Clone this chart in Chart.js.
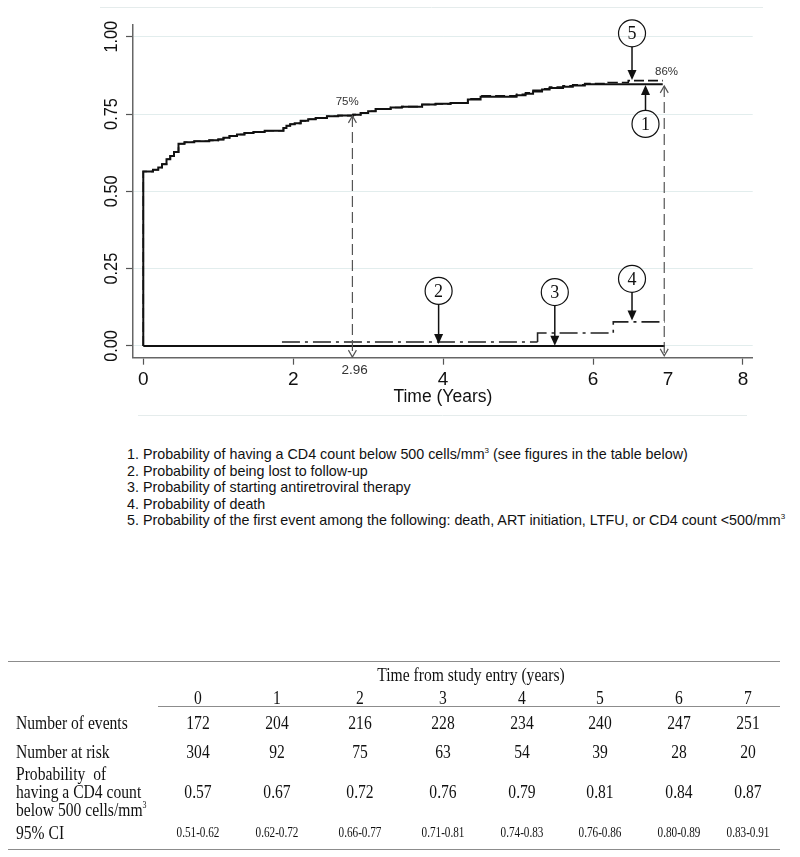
<!DOCTYPE html>
<html>
<head>
<meta charset="utf-8">
<script src="https://cdn.jsdelivr.net/npm/chart.js@4.4.0/dist/chart.umd.min.js"></script>
<style>
  html, body { margin:0; padding:0; background:#fff; }
  body { width:800px; height:857px; position:relative; overflow:hidden; }
  #chartBox { position:absolute; left:0; top:0; width:800px; height:430px; }
  #notes { position:absolute; left:127px; top:446px; font-family:"Liberation Sans", Arial, sans-serif;
           font-size:14.3px; line-height:16.5px; color:#111; white-space:nowrap; }
  #notes sup, #tbl sup { font-size:8px; vertical-align:6px; line-height:0; }
  #tbl sup { font-size:10px; vertical-align:8px; }
  #tbl { position:absolute; left:0; top:0; width:800px; height:857px;
         font-family:"Liberation Serif", "Times New Roman", serif; color:#111; }
  .rule { position:absolute; height:0; border-top:1.5px solid #8c8c8c; }
  .cell { position:absolute; transform:translate(-50%,-50%) scaleX(0.8); white-space:nowrap; font-size:19.5px; line-height:20px; }
  .lab { position:absolute; transform:translateY(-50%) scaleX(0.8); transform-origin:0 50%; white-space:pre; font-size:19.5px; line-height:20px; }
  .ci { font-size:14px; }
</style>
</head>
<body>
<div id="chartBox"><canvas id="km"></canvas></div>
<div id="notes">
  <div>1. Probability of having a CD4 count below 500 cells/mm<sup>3</sup> (see figures in the table below)</div>
  <div>2. Probability of being lost to follow-up</div>
  <div>3. Probability of starting antiretroviral therapy</div>
  <div>4. Probability of death</div>
  <div>5. Probability of the first event among the following: death, ART initiation, LTFU, or CD4 count &lt;500/mm<sup>3</sup></div>
</div>
<div id="tbl"></div>
<script>
// curve 1: CD4 < 500 (solid)
const curve1T = [0, 0, 0.13, 0.2, 0.25, 0.31, 0.36, 0.41, 0.47, 0.55, 0.68, 0.88, 1.0, 1.07, 1.15, 1.25, 1.35, 1.47, 1.62, 1.87,
                 1.91, 1.96, 2.02, 2.1, 2.2, 2.3, 2.45, 2.6, 2.8, 2.9, 3.0, 3.1, 3.3, 3.45, 3.72, 3.9, 4.1, 4.33, 4.5, 4.98,
                 5.1, 5.2, 5.32, 5.42, 5.6, 5.73, 5.89, 6.93];
const curve1V = [0, 0.564, 0.57, 0.577, 0.588, 0.604, 0.614, 0.627, 0.654, 0.659, 0.662, 0.665, 0.668, 0.673, 0.679, 0.684, 0.689, 0.692, 0.696, 0.705,
                 0.712, 0.717, 0.72, 0.728, 0.733, 0.737, 0.743, 0.745, 0.748, 0.753, 0.759, 0.766, 0.771, 0.774, 0.781, 0.783, 0.786, 0.797, 0.806, 0.811,
                 0.816, 0.823, 0.829, 0.834, 0.838, 0.842, 0.846, 0.846];
// curve 5: first event (dashed)
const curve5T = [0, 0, 0.13, 0.2, 0.25, 0.31, 0.36, 0.41, 0.47, 0.55, 0.68, 0.88, 1.0, 1.07, 1.15, 1.25, 1.35, 1.47, 1.62, 1.87,
                 1.91, 1.96, 2.02, 2.1, 2.2, 2.3, 2.45, 2.6, 2.8, 2.9, 3.0, 3.1, 3.3, 3.45, 3.72, 3.9, 4.1, 4.33, 4.5, 4.98,
                 5.1, 5.2, 5.32, 5.42, 5.6, 5.73, 5.89, 6.2, 6.47, 6.93];
const curve5V = [0, 0.564, 0.57, 0.577, 0.588, 0.604, 0.614, 0.627, 0.654, 0.659, 0.662, 0.665, 0.668, 0.673, 0.679, 0.684, 0.689, 0.692, 0.696, 0.705,
                 0.712, 0.717, 0.72, 0.728, 0.733, 0.737, 0.743, 0.745, 0.748, 0.753, 0.759, 0.766, 0.771, 0.774, 0.781, 0.783, 0.786, 0.799, 0.809, 0.814,
                 0.819, 0.827, 0.832, 0.837, 0.841, 0.845, 0.849, 0.852, 0.858, 0.858];
// curve 2: lost to follow-up, curve 4: death (dash-dot), curve 3: ART (solid at 0)
const ltfuT = [1.85, 5.26];
const ltfuV = [0.013, 0.013];
const deathT = [5.26, 5.26, 6.27, 6.96];
const deathV = [0.013, 0.042, 0.078, 0.078];
const artT = [0, 6.96];
const artV = [0, 0];

const xTicks = [0, 2, 4, 6, 7, 8];
const yTicks = [0, 0.25, 0.5, 0.75, 1];

// numbered call-outs: circle centre (t, v) and arrow tip value
const callouts = [
  { n: '5', t: 6.52, v: 1.011, tip: 0.860 },
  { n: '1', t: 6.70, v: 0.718, tip: 0.844 },
  { n: '2', t: 3.94, v: 0.178, tip: 0.006 },
  { n: '3', t: 5.49, v: 0.174, tip: 0.001 },
  { n: '4', t: 6.52, v: 0.217, tip: 0.082 }
];
const dropLines = [
  { t: 2.79, top: 0.744, bottom: -0.036 },
  { t: 6.95, top: 0.841, bottom: -0.032 }
];
const valueLabels = [
  { text: '75%', t: 2.72, v: 0.790, size: 11.5 },
  { text: '86%', t: 6.98, v: 0.885, size: 11.5 },
  { text: '2.96', t: 2.82, v: -0.078, size: 13.5 }
];

// table
const tableYears = [0, 1, 2, 3, 4, 5, 6, 7];
const numEvents = [172, 204, 216, 228, 234, 240, 247, 251];
const numAtRisk = [304, 92, 75, 63, 54, 39, 28, 20];
const probCD4 = ['0.57', '0.67', '0.72', '0.76', '0.79', '0.81', '0.84', '0.87'];
const ci95 = ['0.51-0.62', '0.62-0.72', '0.66-0.77', '0.71-0.81', '0.74-0.83', '0.76-0.86', '0.80-0.89', '0.83-0.91'];

const pts = (ts, vs) => ts.map((t, i) => ({ x: t, y: vs[i] }));
const dashDot = [18, 5, 3, 5];

const overlay = {
  id: 'overlay',
  beforeDraw(chart) {
    const ctx = chart.ctx;
    ctx.save();
    ctx.strokeStyle = '#e5ecec';
    ctx.lineWidth = 1;
    ctx.beginPath();
    ctx.moveTo(100, 7.5); ctx.lineTo(763, 7.5);
    ctx.moveTo(138, 415.5); ctx.lineTo(747, 415.5);
    ctx.stroke();
    ctx.restore();
  },
  afterDraw(chart) {
    const ctx = chart.ctx, xs = chart.scales.x, ys = chart.scales.y;
    const px = t => xs.getPixelForValue(t), py = v => ys.getPixelForValue(v);
    const line = (x1, y1, x2, y2) => { ctx.beginPath(); ctx.moveTo(x1, y1); ctx.lineTo(x2, y2); ctx.stroke(); };
    ctx.save();

    // rotated y tick labels
    ctx.fillStyle = '#111';
    ctx.font = '18.5px "Liberation Sans", Arial, sans-serif';
    ctx.textAlign = 'center';
    ctx.textBaseline = 'middle';
    yTicks.forEach(v => {
      ctx.save();
      ctx.translate(ys.right - 21, py(v));
      ctx.rotate(-Math.PI / 2);
      ctx.scale(0.88, 1);
      ctx.fillText(v.toFixed(2), 0, 0);
      ctx.restore();
    });

    // dashed drop lines with open heads
    ctx.strokeStyle = '#555';
    ctx.lineWidth = 1.2;
    dropLines.forEach(d => {
      const x = px(d.t), y1 = py(d.top), y2 = py(d.bottom);
      ctx.setLineDash([11, 5]);
      line(x, y1, x, y2);
      ctx.setLineDash([]);
      ctx.beginPath();
      ctx.moveTo(x - 4, y1 + 7); ctx.lineTo(x, y1); ctx.lineTo(x + 4, y1 + 7);
      ctx.moveTo(x - 4, y2 - 7); ctx.lineTo(x, y2); ctx.lineTo(x + 4, y2 - 7);
      ctx.stroke();
    });

    // call-outs
    const r = 13.5;
    ctx.strokeStyle = '#111';
    ctx.fillStyle = '#111';
    callouts.forEach(c => {
      const x = px(c.t), y = py(c.v), tipY = py(c.tip);
      const dir = tipY > y ? 1 : -1;
      ctx.lineWidth = 1.2;
      ctx.beginPath(); ctx.arc(x, y, r, 0, Math.PI * 2); ctx.stroke();
      ctx.font = '18px "Liberation Serif", "Times New Roman", serif';
      ctx.fillText(c.n, x, y + 1);
      ctx.lineWidth = 1.5;
      line(x, y + dir * r, x, tipY - dir * 8);
      ctx.beginPath();
      ctx.moveTo(x, tipY);
      ctx.lineTo(x - 4.5, tipY - dir * 10);
      ctx.lineTo(x + 4.5, tipY - dir * 10);
      ctx.closePath();
      ctx.fill();
    });

    // small value labels
    ctx.fillStyle = '#333';
    valueLabels.forEach(l => {
      ctx.font = l.size + 'px "Liberation Sans", Arial, sans-serif';
      ctx.fillText(l.text, px(l.t), py(l.v));
    });
    ctx.restore();
  }
};

new Chart(document.getElementById('km'), {
  type: 'line',
  data: {
    datasets: [
      { label: '5', data: pts(curve5T, curve5V), borderColor: '#111', borderWidth: 1.6, borderDash: [10, 4], stepped: true, order: 1 },
      { label: '1', data: pts(curve1T, curve1V), borderColor: '#111', borderWidth: 2, stepped: true, order: 2 },
      { label: '2', data: pts(ltfuT, ltfuV), borderColor: '#222', borderWidth: 1.6, borderDash: dashDot, stepped: true, order: 3 },
      { label: '4', data: pts(deathT, deathV), borderColor: '#222', borderWidth: 1.6, borderDash: dashDot, stepped: true, order: 4 },
      { label: '3', data: pts(artT, artV), borderColor: '#111', borderWidth: 2, stepped: true, order: 5 }
    ]
  },
  options: {
    responsive: true,
    maintainAspectRatio: false,
    animation: false,
    devicePixelRatio: 1,
    layout: { padding: { left: 0, right: 47.3, top: 25, bottom: 22.3 } },
    elements: { point: { radius: 0 }, line: { tension: 0 } },
    plugins: { legend: { display: false }, tooltip: { enabled: false } },
    scales: {
      x: {
        type: 'linear', min: -0.137, max: 8.13,
        afterBuildTicks: s => { s.ticks = xTicks.map(v => ({ value: v })); },
        afterFit: s => { s.height = 50; },
        ticks: { autoSkip: false, maxRotation: 0, padding: 4, color: '#111',
                 font: { family: '"Liberation Sans", Arial, sans-serif', size: 19 },
                 callback: v => String(v) },
        grid: { drawOnChartArea: false, drawTicks: true, tickLength: 7, tickWidth: 1.2,
                tickColor: c => (c.tick && c.tick.value === 7) ? 'rgba(0,0,0,0)' : '#555' },
        border: { display: true, color: '#666', width: 1.5 },
        title: { display: true, text: 'Time (Years)', color: '#111', padding: { top: 0, bottom: 0 },
                 font: { family: '"Liberation Sans", Arial, sans-serif', size: 17.5 } }
      },
      y: {
        type: 'linear', min: -0.038, max: 1.038,
        afterBuildTicks: s => { s.ticks = yTicks.map(v => ({ value: v })); },
        afterFit: s => { s.width = 133; },
        ticks: { display: false },
        grid: { color: '#e2eded', lineWidth: 1, drawTicks: true, tickLength: 7, tickColor: '#555', tickWidth: 1.2 },
        border: { display: true, color: '#666', width: 1.5 }
      }
    }
  },
  plugins: [overlay]
});

// table below the chart
const tbl = document.getElementById('tbl');
const colX = [198, 277, 360, 442.7, 521.7, 600, 679.3, 747.7];
const add = (cls, html, x, y, extra) => {
  const d = document.createElement('div');
  d.className = cls + (extra ? ' ' + extra : '');
  d.innerHTML = html;
  d.style.left = x + 'px';
  d.style.top = y + 'px';
  tbl.appendChild(d);
};
const rule = (x1, x2, y) => {
  const d = document.createElement('div');
  d.className = 'rule';
  d.style.left = x1 + 'px'; d.style.width = (x2 - x1) + 'px'; d.style.top = y + 'px';
  tbl.appendChild(d);
};
rule(8, 780, 661);
add('cell', 'Time from study entry (years)', 471, 675);
tableYears.forEach((y, i) => add('cell', String(y), colX[i], 698));
rule(158, 780, 705.5);
add('lab', 'Number of events', 16, 723);
numEvents.forEach((v, i) => add('cell', String(v), colX[i], 723));
add('lab', 'Number at risk', 16, 751.5);
numAtRisk.forEach((v, i) => add('cell', String(v), colX[i], 751.5));
add('lab', 'Probability  of', 16, 774);
add('lab', 'having a CD4 count', 16, 792);
add('lab', 'below 500 cells/mm<sup>3</sup>', 16, 810);
probCD4.forEach((v, i) => add('cell', v, colX[i], 792));
add('lab', '95% CI', 16, 833);
ci95.forEach((v, i) => add('cell', v, colX[i], 833, 'ci'));
rule(8, 780, 848.5);
</script>
</body>
</html>
